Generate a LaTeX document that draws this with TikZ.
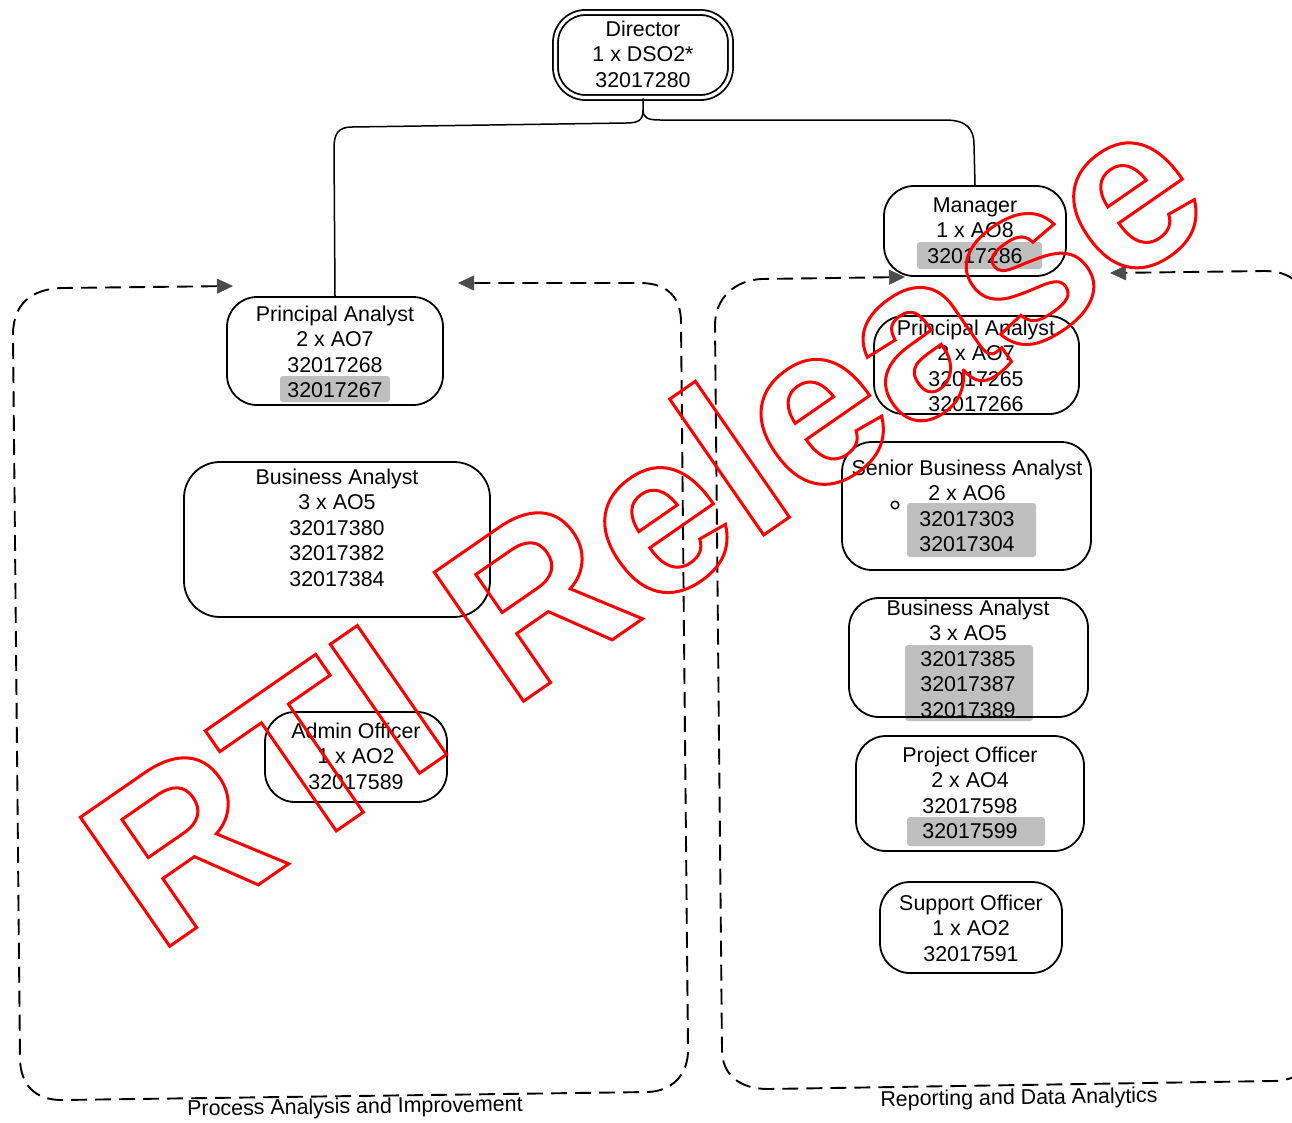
\documentclass[tikz,border=0pt]{standalone}
\usepackage{fontspec}
\setmainfont{Liberation Sans}
\usetikzlibrary{arrows.meta}
\begin{document}
\begin{tikzpicture}[x=1pt,y=-1pt,
  box/.style={draw, line width=1.8pt, rounded corners=30pt, inner sep=0pt},
  lbl/.style={anchor=north, align=center, inner sep=0pt,
              font=\fontsize{21.4}{25.5}\selectfont},
  caption/.style={inner sep=0pt, rotate=0.8, font=\fontsize{21.4}{25.5}\selectfont},
  hl/.style={fill=black!25, draw=none, rounded corners=3pt},
  link/.style={draw, line width=1.5pt},
  frame/.style={draw, line width=1.9pt, dash pattern=on 16pt off 8pt,
                {Triangle[length=16pt,width=15pt,color=black!70,fill=black!70,line width=0.5pt]}-{Triangle[length=16pt,width=15pt,color=black!70,fill=black!70,line width=0.5pt]}}
]
\useasboundingbox (0,0) rectangle (1292,1122);

% grey highlighting behind some position numbers
\fill[hl] (280,376) rectangle (390,402);
\fill[hl] (917,242) rectangle (1042,269);
\fill[hl] (907,503) rectangle (1036,557);
\fill[hl] (905,645) rectangle (1033,721);
\fill[hl] (907,817) rectangle (1045,846);

% position boxes
\node[box, double, double distance=3.2pt, minimum width=175pt, minimum height=85pt] (dir) at (643,55) {};
\node[box, minimum width=216pt, minimum height=108pt] (pal) at (335,351) {};
\node[box, minimum width=306pt, minimum height=155pt, rounded corners=36pt] (bal) at (337,539.5) {};
\node[box, minimum width=182pt, minimum height=90pt] (ado) at (356,757) {};
\node[box, minimum width=182pt, minimum height=90pt] (mgr) at (975,231) {};
\node[box, minimum width=205pt, minimum height=98pt] (par) at (976.5,365) {};
\node[box, minimum width=249pt, minimum height=128pt] (sba) at (966.5,506) {};
\node[box, minimum width=239pt, minimum height=119pt] (bar) at (968.5,657.5) {};
\node[box, minimum width=228pt, minimum height=115pt] (pof) at (970,793.5) {};
\node[box, minimum width=182pt, minimum height=91pt] (sof) at (971,927.5) {};

% box texts
\node[lbl] (dir-t) at (643,20.3) {Director\\1 x DSO2*\\32017280};
\node[lbl] (pal-t) at (335,305.3) {Principal Analyst\\2 x AO7\\32017268\\32017267};
\node[lbl] (bal-t) at (337,468.3) {Business Analyst\\3 x AO5\\32017380\\32017382\\32017384};
\node[lbl] (ado-t) at (356,722.3) {Admin Officer\\1 x AO2\\32017589};
\node[lbl] (mgr-t) at (975,197.3) {Manager\\1 x AO8\\32017286};
\node[lbl] (par-t) at (976,319.3) {Principal Analyst\\2 x AO7\\32017265\\32017266};
\node[lbl] (sba-t) at (967,459.3) {Senior Business Analyst\\2 x AO6\\32017303\\32017304};
\node[lbl] (bar-t) at (968,599.3) {Business Analyst\\3 x AO5\\32017385\\32017387\\32017389};
\node[lbl] (pof-t) at (970,746.3) {Project Officer\\2 x AO4\\32017598\\32017599};
\node[lbl] (sof-t) at (971,894.3) {Support Officer\\1 x AO2\\32017591};

% small bullet inside the senior analyst box
\draw[line width=1.4pt] (895,505) circle (3.8pt);

% reporting lines from the director
\path[link] (dir.south) -- (643,110)
  .. controls (643,120) and (639,123) .. (626,123) -- (352,127)
  .. controls (338,127) and (334,134) .. (334,148) -- (pal.north);
\path[link] (643,110)
  .. controls (643,118) and (648,120) .. (660,120) -- (945,120)
  .. controls (966,120) and (974,128) .. (974,145) -- (mgr.north);

% dashed team frames
\coordinate (la) at (233,286);
\coordinate (lb) at (458,283);
\path[frame] (la) -- (62,288)
  .. controls (30,289) and (13,305) .. (13,335) -- (20,1060)
  .. controls (21,1085) and (35,1100) .. (62,1100) -- (648,1092)
  .. controls (672,1091) and (688,1075) .. (688,1050) -- (681,322)
  .. controls (681,298) and (668,283) .. (640,283) -- (lb);

\coordinate (ra) at (905,277);
\coordinate (rb) at (1110,273);
\path[frame] (ra) -- (762,279)
  .. controls (735,280) and (715,298) .. (715,325) -- (722,1050)
  .. controls (722,1075) and (740,1089) .. (768,1089) -- (1272,1081)
  .. controls (1300,1081) and (1310,1068) .. (1310,1040) -- (1310,320)
  .. controls (1310,290) and (1295,271) .. (1265,271) -- (rb);

% team captions
\node[caption] (pai) at (355,1108) {Process Analysis and Improvement};
\node[caption] (rda) at (1019,1099) {Reporting and Data Analytics};

% outlined red stamp
\node[anchor=base west, rotate=34.7, inner sep=0pt,
      font=\fontsize{228}{228}\selectfont\bfseries] (stamp) at (157,955)
  {\special{pdf:literal direct 1 Tr 3 w 1 0 0 RG}RTI Release\special{pdf:literal direct 0 Tr}};
\end{tikzpicture}
\end{document}
